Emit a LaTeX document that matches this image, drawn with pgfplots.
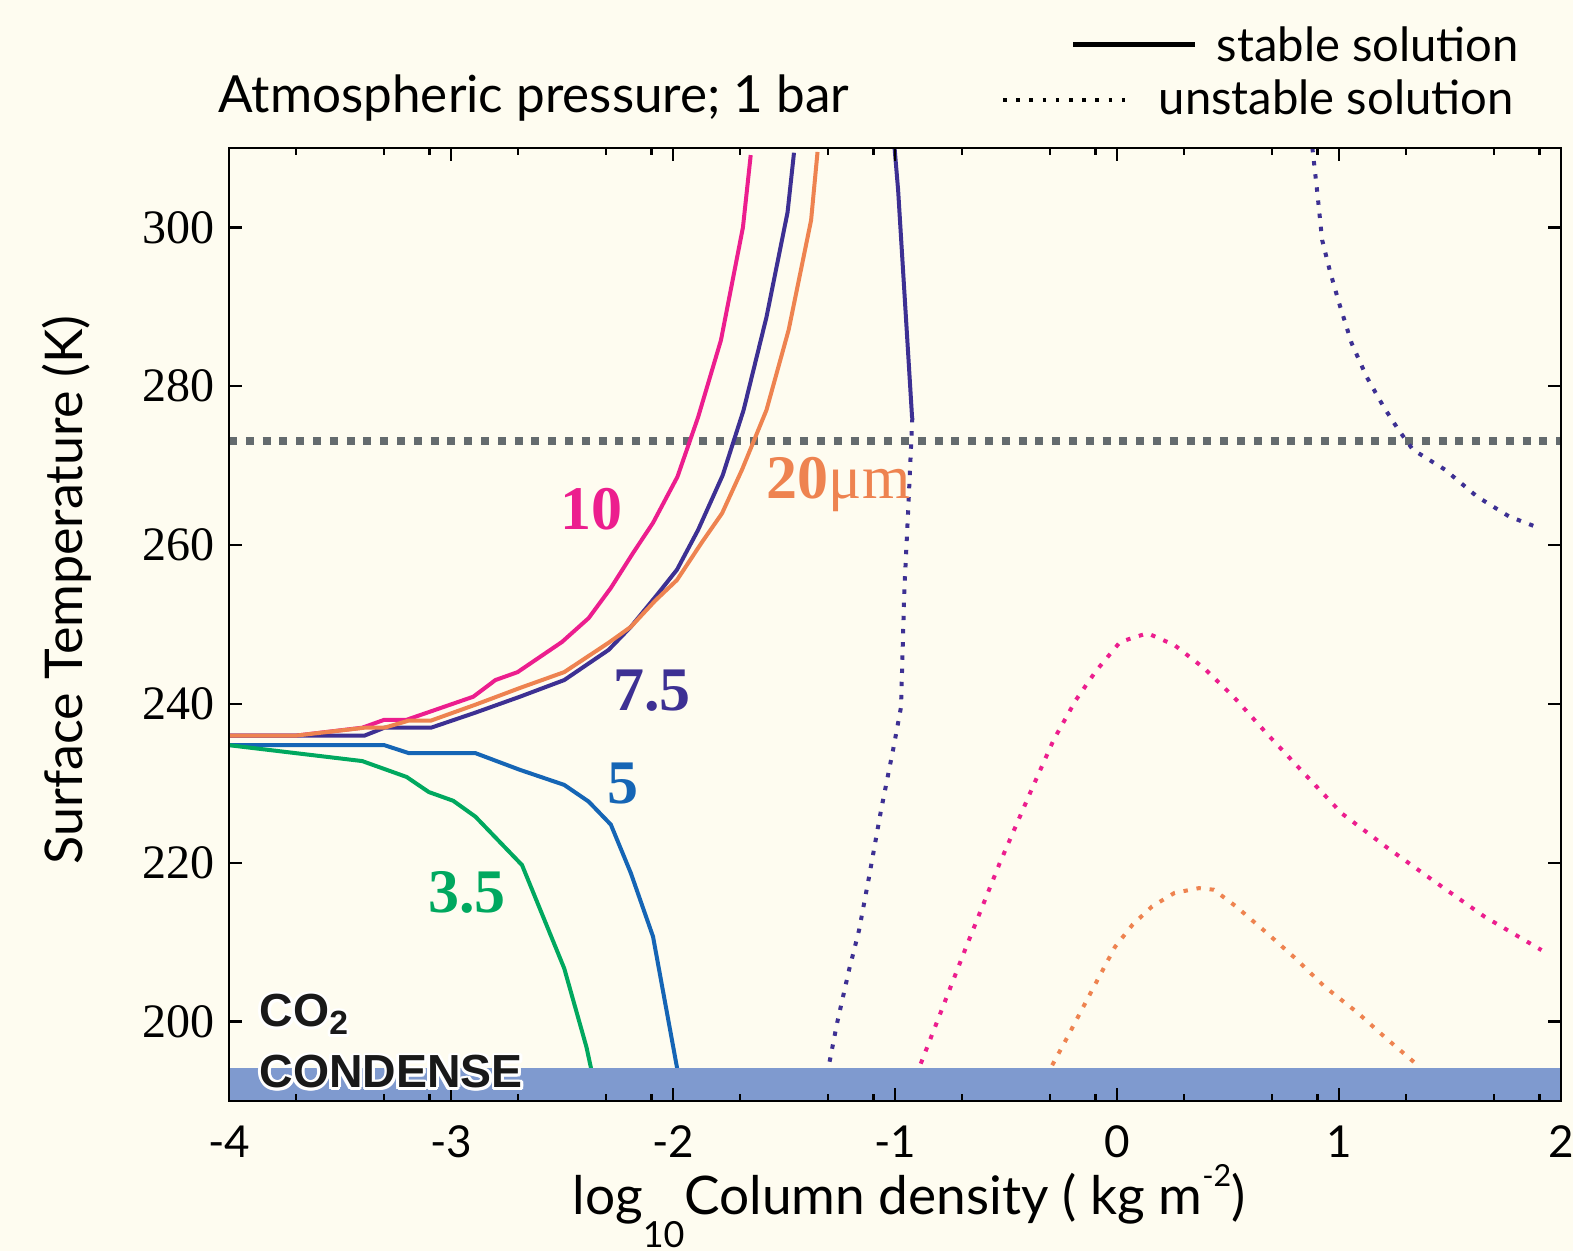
\documentclass[border=0pt]{standalone}
\usepackage{fontspec}
\setmainfont{Lato}
\newfontfamily\numserif{Liberation Serif}
\newfontfamily\helv{Liberation Sans}
\usepackage{pgfplots}
\pgfplotsset{compat=1.18}

\definecolor{bgcream}{HTML}{FEFCF0}
\definecolor{pinkc}{HTML}{EC1E8E}
\definecolor{purplec}{HTML}{3D3093}
\definecolor{orangec}{HTML}{EE8350}
\definecolor{bluec}{HTML}{1565B5}
\definecolor{greenc}{HTML}{00A85F}
\definecolor{bandc}{HTML}{7F9ACF}
\definecolor{grayc}{HTML}{646B6E}

\tikzset{
  stable/.style={line width=1bp},
  unstable/.style={line width=1bp, dash pattern=on 1.1bp off 2.2bp},
  curvelabel/.style={anchor=base, inner sep=0pt,
    font=\numserif\bfseries\fontsize{15.5bp}{15.5bp}\selectfont},
  px/.style={x=0.25bp, y=0.25bp},
  co2font/.style={font=\helv\bfseries\fontsize{11.6bp}{11.6bp}\selectfont},
}

\begin{document}
\begin{tikzpicture}
% page background
\fill[bgcream, px] (0,0) rectangle (1573,1251);

\begin{axis}[
  at={(57.25bp,37.5bp)}, anchor=south west,
  scale only axis, width=333bp, height=238.25bp,
  xmin=-4, xmax=2, ymin=190, ymax=310,
  axis on top,
  axis line style={line width=0.6bp},
  every tick/.style={black, line width=0.6bp},
  major tick length=3.25bp, minor tick length=1.75bp,
  xtick={-4,-3,-2,-1,0,1,2},
  xticklabels={-4,-3,-2,-1,0,1,2},
  minor xtick={-3.699,-3.301,-3.097,-2.699,-2.301,-2.097,-1.699,-1.301,-1.097,
               -0.699,-0.301,-0.097,0.301,0.699,0.903,1.301,1.699,1.903},
  ytick={200,220,...,300},
  /pgf/number format/assume math mode=true,
  xticklabel style={anchor=base, inner sep=0pt, yshift=-14.25bp,
    font=\fontsize{11bp}{11bp}\selectfont},
  yticklabel style={anchor=east, inner sep=0pt, xshift=-3.5bp,
    font=\numserif\fontsize{12bp}{12bp}\selectfont},
]

% freezing point of water
\addplot[grayc, line width=2bp, dash pattern=on 2bp off 2.2bp]
  coordinates {(-4,273.15) (2,273.15)};

% stable branches
\addplot[pinkc, stable] coordinates {
  (-4.0,236.0) (-3.7,236.0) (-3.4,237.0) (-3.3,238.0) (-3.2,238.0)
  (-2.9,240.9) (-2.8,243.0) (-2.7,244.0) (-2.5,247.8) (-2.38,250.8)
  (-2.28,254.6) (-2.18,259.0) (-2.09,262.8) (-1.98,268.6) (-1.887,276.1)
  (-1.784,285.8) (-1.685,300.0) (-1.650,309.1)};

\addplot[purplec, stable] coordinates {
  (-4.0,236.0) (-3.7,236.0) (-3.39,236.0) (-3.3,237.0) (-3.09,237.0)
  (-2.89,238.9) (-2.69,240.9) (-2.49,243.0) (-2.29,246.8) (-2.19,249.7)
  (-2.07,253.8) (-1.982,256.9) (-1.887,261.9) (-1.776,268.8) (-1.682,277.0)
  (-1.579,288.7) (-1.484,301.9) (-1.455,309.4)};

\addplot[orangec, stable] coordinates {
  (-4.0,236.0) (-3.7,236.0) (-3.39,237.0) (-3.3,237.0) (-3.19,237.9)
  (-3.09,237.9) (-2.89,239.9) (-2.69,242.0) (-2.49,244.0) (-2.29,247.7)
  (-2.19,249.7) (-2.08,253.0) (-1.982,255.6) (-1.871,260.3) (-1.779,264.0)
  (-1.689,269.5) (-1.579,277.0) (-1.479,287.1) (-1.378,300.9) (-1.349,309.5)};

\addplot[bluec, stable] coordinates {
  (-4.0,234.8) (-3.3,234.8) (-3.19,233.8) (-2.89,233.8) (-2.69,231.7)
  (-2.49,229.8) (-2.38,227.7) (-2.28,224.8) (-2.19,218.7) (-2.09,210.7)
  (-1.98,193.9)};

\addplot[greenc, stable] coordinates {
  (-4.0,234.8) (-3.4,232.8) (-3.2,230.8) (-3.1,228.9) (-2.99,227.8)
  (-2.89,225.8) (-2.68,219.7) (-2.49,206.7) (-2.39,196.8) (-2.366,193.7)};

\addplot[purplec, stable] coordinates {
  (-1.002,310.0) (-0.986,304.7) (-0.923,276.0)};

% unstable branches
\addplot[purplec, unstable] coordinates {
  (-0.922,276.0) (-0.940,264.8) (-0.958,254.3) (-0.973,239.6) (-1.006,234.6)
  (-1.063,226.6) (-1.117,218.2) (-1.162,211.5) (-1.207,206.5) (-1.261,199.8)
  (-1.295,194.9)};

\addplot[purplec, unstable] coordinates {
  (0.880,310.0) (0.901,304.7) (0.924,298.4) (0.958,294.6) (1.000,290.5)
  (1.057,285.4) (1.124,281.2) (1.201,277.4) (1.268,274.5) (1.333,272.0)
  (1.477,269.5) (1.622,266.1) (1.766,263.6) (1.887,262.3)};

\addplot[pinkc, unstable] coordinates {
  (-0.884,194.7) (-0.685,209.0) (-0.529,219.9) (-0.385,229.2) (-0.285,235.5)
  (-0.185,240.5) (-0.096,244.1) (0.014,247.8) (0.137,248.9) (0.259,247.4)
  (0.392,244.5) (0.525,240.9) (0.680,236.1) (0.858,230.8) (1.013,226.2)
  (1.212,222.0) (1.412,218.0) (1.656,213.2) (1.912,209.0)};

\addplot[orangec, unstable] coordinates {
  (-0.292,194.5) (-0.230,197.7) (-0.119,203.6) (-0.009,209.4) (0.070,212.2)
  (0.158,214.5) (0.259,216.2) (0.369,216.8) (0.436,216.6) (0.536,214.5)
  (0.669,211.3) (0.802,208.0) (0.935,204.4) (1.080,201.2) (1.212,197.9)
  (1.346,194.7)};

% CO2 condensation region
\fill[bandc] (-4,190) rectangle (2,194.2);

% particle radius labels
\node[curvelabel, text=pinkc] at (-2.365,261.9) {10};
\node[curvelabel, text=purplec] at (-2.095,239.2) {7.5};
\node[curvelabel, text=bluec] at (-2.225,227.5) {5};
\node[curvelabel, text=greenc] at (-2.928,213.7) {3.5};
\node[curvelabel, text=orangec, anchor=base west] at (-1.581,265.9)
  {20\mdseries μm};
\end{axis}

\begin{scope}[px]
% axis titles
\node[rotate=90, anchor=base, inner sep=0pt, font=\fontsize{13bp}{13bp}\selectfont]
  at (82,661) {Surface Temperature (K)};
\node[anchor=base, inner sep=0pt, font=\fontsize{13.3bp}{13.3bp}\selectfont]
  at (909,36) {log\raisebox{-8.25bp}{\fontsize{9bp}{9bp}\selectfont 10}Column density ( kg m\raisebox{7bp}{\fontsize{7.6bp}{7.6bp}\selectfont -2})};

% heading and key
\node[anchor=base west, inner sep=0pt, font=\fontsize{12.8bp}{12.8bp}\selectfont]
  at (218,1138) {Atmospheric pressure; 1 bar};
\draw[black, line width=1.25bp] (1073,1206) -- (1195,1206);
\node[anchor=base west, inner sep=0pt, font=\fontsize{11.8bp}{11.8bp}\selectfont]
  at (1216,1189) {stable solution};
\draw[black, line width=0.9bp, dash pattern=on 0.9bp off 2.4bp] (1003,1151) -- (1128,1151);
\node[anchor=base west, inner sep=0pt, font=\fontsize{11.8bp}{11.8bp}\selectfont]
  at (1158,1136) {unstable solution};

% CO2 label with a white halo
\foreach \a in {0,30,...,330} {
  \node[anchor=base west, inner sep=0pt, text=white, shift={(\a:0.7bp)}, co2font]
    at (259,224) {CO\raisebox{-2bp}{\fontsize{8.4bp}{8.4bp}\selectfont 2}};
  \node[anchor=base west, inner sep=0pt, text=white, shift={(\a:0.7bp)}, co2font]
    at (259,163) {CONDENSE};
}
\node[anchor=base west, inner sep=0pt, text=black!90, co2font]
  at (259,224) {CO\raisebox{-2bp}{\fontsize{8.4bp}{8.4bp}\selectfont 2}};
\node[anchor=base west, inner sep=0pt, text=black!90, co2font]
  at (259,163) {CONDENSE};
\end{scope}

\pgfresetboundingbox
\useasboundingbox[px] (0,0) rectangle (1573,1251);
\end{tikzpicture}
\end{document}
